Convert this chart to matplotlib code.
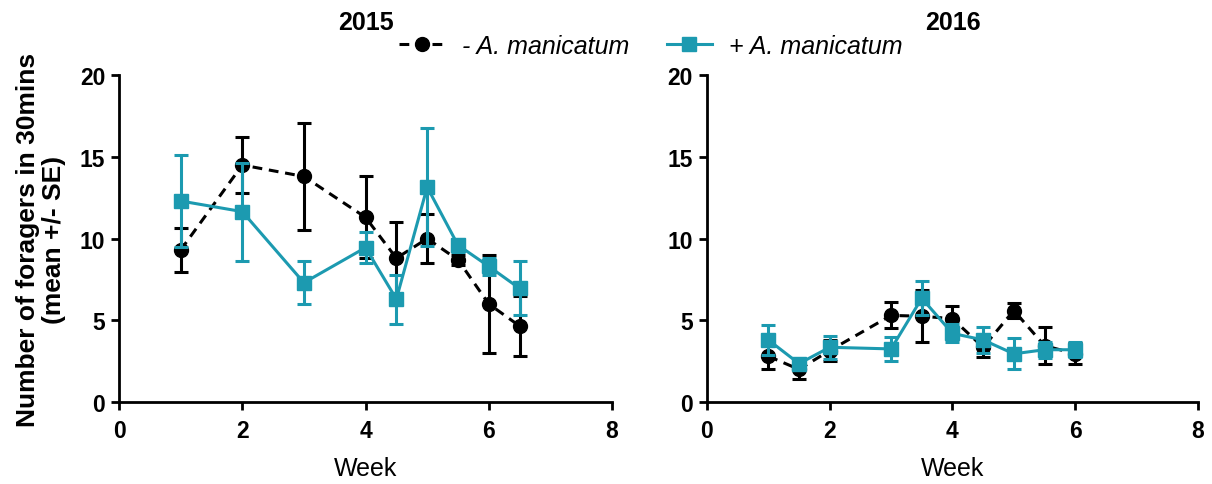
import matplotlib
matplotlib.use('Agg')
import matplotlib.pyplot as plt
from matplotlib.lines import Line2D

plt.rcParams['font.family'] = ['Liberation Sans', 'DejaVu Sans']

# 2015 season
weeks_2015 = [1, 2, 3, 4, 4.5, 5, 5.5, 6, 6.5]
minus_2015 = [9.3, 14.5, 13.8, 11.3, 8.8, 10.0, 8.7, 6.0, 4.65]
minus_2015_se = [1.35, 1.7, 3.3, 2.5, 2.2, 1.5, 0.3, 3.0, 1.85]
plus_2015 = [12.3, 11.65, 7.3, 9.45, 6.3, 13.15, 9.6, 8.3, 6.95]
plus_2015_se = [2.8, 3.0, 1.3, 0.95, 1.5, 3.6, 0.4, 0.5, 1.65]

# 2016 season
weeks_2016 = [1, 1.5, 2, 3, 3.5, 4, 4.5, 5, 5.5, 6]
minus_2016 = [2.8, 2.0, 3.15, 5.3, 5.25, 5.1, 3.35, 5.6, 3.45, 2.95]
minus_2016_se = [0.75, 0.57, 0.65, 0.8, 1.6, 0.75, 0.6, 0.45, 1.15, 0.65]
plus_2016 = [3.8, 2.35, 3.35, 3.25, 6.35, 4.2, 3.8, 2.95, 3.2, 3.2]
plus_2016_se = [0.9, 0.25, 0.7, 0.75, 1.05, 0.55, 0.8, 0.95, 0.5, 0.45]

years = ['2015', '2016']
legend_labels = ['- A. manicatum', '+ A. manicatum']

BLACK = '#000000'
TEAL = '#1c9ab0'
LW = 2.2
DASH = (0, (3.2, 2.2))

fig = plt.figure(figsize=(12.12, 4.85), dpi=100)
ax1 = fig.add_axes([0.0982, 0.169, 0.4068, 0.674])
ax2 = fig.add_axes([0.5833, 0.169, 0.4051, 0.674])

panels = [
    (ax1, weeks_2015, minus_2015, minus_2015_se, plus_2015, plus_2015_se),
    (ax2, weeks_2016, minus_2016, minus_2016_se, plus_2016, plus_2016_se),
]

for (ax, wk, m, mse, p, pse), year in zip(panels, years):
    ax.errorbar(wk, m, yerr=mse, color=BLACK, ls=DASH, lw=LW,
                marker='o', ms=10, capsize=5, capthick=LW, elinewidth=LW, zorder=3)
    ax.errorbar(wk, p, yerr=pse, color=TEAL, ls='-', lw=LW,
                marker='s', ms=9.5, capsize=5, capthick=LW, elinewidth=LW, zorder=4)
    ax.set_xlim(0, 8)
    ax.set_ylim(0, 20)
    ax.set_xticks([0, 2, 4, 6, 8])
    ax.set_yticks([0, 5, 10, 15, 20])
    for side in ['top', 'right']:
        ax.spines[side].set_visible(False)
    for side in ['left', 'bottom']:
        ax.spines[side].set_linewidth(2.0)
    ax.tick_params(axis='both', length=6, width=2.0, labelsize=16.5)
    ax.tick_params(axis='x', pad=6)
    ax.tick_params(axis='y', pad=4)
    for lab in ax.get_xticklabels() + ax.get_yticklabels():
        lab.set_fontweight('bold')
    ax.set_title(year, fontweight='bold', fontsize=18, pad=33)
    ax.set_xlabel('Week', fontsize=18)
    ax.xaxis.set_label_coords(0.5, -0.165)

ax1.set_ylabel('Number of foragers in 30mins\n(mean +/- SE)', fontsize=19,
               fontweight='bold', linespacing=1.1)
ax1.yaxis.set_label_coords(-0.108, 0.5)

handles = [
    Line2D([], [], color=BLACK, ls=DASH, lw=LW, marker='o', ms=10),
    Line2D([], [], color=TEAL, ls='-', lw=LW, marker='s', ms=9.5),
]
fig.legend(handles, legend_labels, loc='center', bbox_to_anchor=(651 / 1212, 1 - 47 / 485),
           ncol=2, frameon=False, prop={'style': 'italic', 'size': 18},
           handlelength=1.8, columnspacing=1.5, handletextpad=0.7)

fig.savefig('out.png', dpi=100)
